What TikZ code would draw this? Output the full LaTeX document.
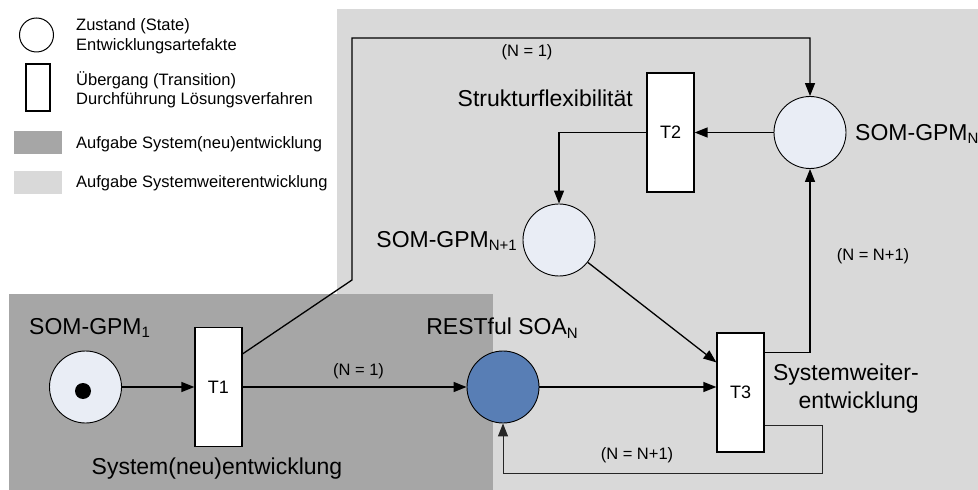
\documentclass[tikz,border=0pt]{standalone}
\usepackage{fontspec}
\setmainfont{Liberation Sans}
\usetikzlibrary{arrows.meta}
\definecolor{lightbg}{HTML}{D9D9D9}
\definecolor{darkbg}{HTML}{A6A6A6}
\definecolor{placefill}{HTML}{E9EDF5}
\definecolor{restfill}{HTML}{587EB5}
\newcommand\mysub[1]{\raisebox{-0.16em}{\fontsize{15bp}{15bp}\selectfont #1}}
\begin{document}
\begin{tikzpicture}[x=1bp,y=-1bp,
 place/.style={circle,draw,line width=0.9bp,fill=placefill,minimum size=72bp,inner sep=0pt},
 trans/.style={rectangle,draw,line width=1.2bp,fill=white,minimum width=47bp,minimum height=119bp,inner sep=0pt,font=\fontsize{18bp}{20bp}\selectfont},
 arr/.style={draw,line width=1.3bp,-{Triangle[length=13bp,width=10bp]}},
 big/.style={inner sep=0pt,font=\fontsize{23bp}{28bp}\selectfont},
 small/.style={inner sep=0pt,font=\fontsize{16.5bp}{19.5bp}\selectfont},
]
\useasboundingbox (0,0) rectangle (978,490);
\fill[lightbg] (337,9) rectangle (978,490);
\fill[darkbg] (9,294) rectangle (493,490);

% legend
\node[circle,draw,line width=1bp,minimum size=34bp,inner sep=0pt] (lc) at (36.5,35) {};
\node[rectangle,draw,line width=1.2bp,minimum width=24bp,minimum height=47bp,inner sep=0pt] (lr) at (38,87.5) {};
\node[fill=darkbg,minimum width=48bp,minimum height=23bp,inner sep=0pt] (ld) at (38,142.5) {};
\node[fill=lightbg,minimum width=48bp,minimum height=23bp,inner sep=0pt] (ll) at (38,182.5) {};
\node[small,anchor=west,align=left] (lct) at (76,36) {Zustand (State)\\Entwicklungsartefakte};
\node[small,anchor=west,align=left] (lrt) at (76,90) {Übergang (Transition)\\Durchführung Lösungsverfahren};
\node[small,anchor=west] (ldt) at (76,144) {Aufgabe System(neu)entwicklung};
\node[small,anchor=west] (llt) at (76,183) {Aufgabe Systemweiterentwicklung};

% places and transitions
\node[place] (p1) at (85.5,387) {};
\node[circle,fill=black,minimum size=16bp,inner sep=0pt] (tok) at (83,391) {};
\node[place,fill=restfill] (rest) at (503,387) {};
\node[place] (pn) at (810,132.5) {};
\node[place] (pn1) at (559,240) {};
\node[trans] (t1) at (218.5,387) {T1};
\node[trans] (t2) at (670.5,132.5) {T2};
\node[trans] (t3) at (740.5,392.5) {T3};

% labels
\node[big,anchor=west] (l1) at (29,328) {SOM-GPM\mysub{1}};
\node[big,anchor=east] (lrest) at (578,328) {RESTful SOA\mysub{N}};
\node[big,anchor=west] (lpn) at (855,134) {SOM-GPM\mysub{N}};
\node[big,anchor=east] (lpn1) at (517,241) {SOM-GPM\mysub{N+1}};
\node[big,anchor=east] (lsf) at (633,98) {Strukturflexibilität};
\node[big,anchor=east,align=right] (lsw) at (919,389) {Systemweiter-\\entwicklung};
\node[big] (lsn) at (217,469) {System(neu)entwicklung};
\node[small] (n1a) at (358.5,371) {(N = 1)};
\node[small] (n1b) at (527,52) {(N = 1)};
\node[small] (nn1a) at (873,256) {(N = N+1)};
\node[small] (nn1b) at (637,455) {(N = N+1)};

% connectors
\coordinate (k1) at (352,280);
\coordinate (k2) at (352,38);
\coordinate (k3) at (822,425);
\coordinate (k4) at (822,473);
\draw[arr] ([yshift=-27bp]t1.north east) -- (k1) -- (k2) -- (k2 -| pn) -- (pn);
\draw[arr] (p1) -- (t1);
\draw[arr] (t1) -- (rest);
\draw[arr] (pn) -- (t2);
\draw[arr] (t2.west) -| (pn1);
\draw[arr] (pn1) -- ([yshift=-30bp]t3.north west);
\draw[arr] (rest) -- (rest -| t3.west);
\draw[arr] ([yshift=-20bp]t3.north east) -| (pn);
\draw[arr,line width=1bp,draw=black!85] (t3.east |- k3) -- (k3) -- (k4) -- (k4 -| rest) -- (rest);
\end{tikzpicture}
\end{document}
